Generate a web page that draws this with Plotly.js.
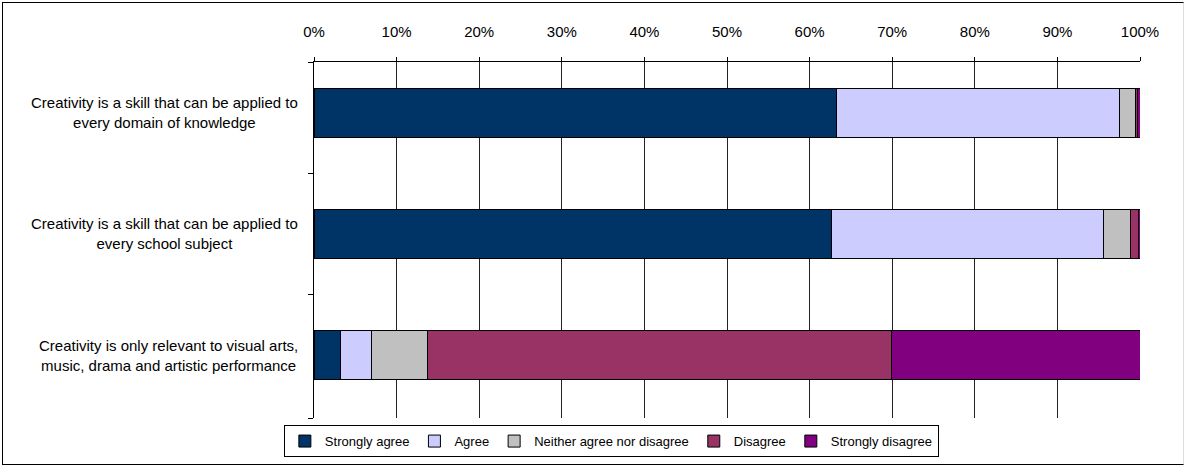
<!DOCTYPE html>
<html>
<head>
<meta charset="utf-8">
<script src="https://cdn.plot.ly/plotly-3.0.1.min.js"></script>
<style>
  html, body { margin: 0; padding: 0; background: #fff; }
  #wrap { position: relative; width: 1184px; height: 466px; }
  #chart { width: 1184px; height: 466px; }
  #frame { position: absolute; left: 2px; top: 2px; width: 1180px; height: 461px;
           border-left: 1px solid #000; border-top: 1px solid #000; border-bottom: 1px solid #000;
           border-right: 1px solid #ddd; pointer-events: none; }
</style>
</head>
<body>
<div id="wrap"><div id="chart"></div><div id="frame"></div></div>
<script>
const categories = [
  "Creativity is a skill that can be applied to<br>every domain of knowledge",
  "Creativity is a skill that can be applied to<br>every school subject",
  "Creativity is only relevant to visual arts,<br>music, drama and artistic performance"
];
const seriesNames = ["Strongly agree", "Agree", "Neither agree nor disagree", "Disagree", "Strongly disagree"];
const stronglyAgree    = [0.633, 0.626, 0.032];
const agree            = [0.342, 0.330, 0.038];
const neither          = [0.019, 0.032, 0.068];
const disagree         = [0.003, 0.010, 0.561];
const stronglyDisagree = [0.003, 0.002, 0.301];
const seriesValues = [stronglyAgree, agree, neither, disagree, stronglyDisagree];
const colors = ["#003366", "#CCCCFF", "#C0C0C0", "#993366", "#800080"];
const catIndex = categories.map((c, i) => i);

const FONT = "Liberation Sans, Arial, sans-serif";

const traces = seriesNames.map((name, i) => ({
  type: "bar",
  orientation: "h",
  name: name,
  x: seriesValues[i],
  y: catIndex,
  width: 0.4,
  marker: { color: colors[i], line: { color: "#000", width: 1 } },
  hoverinfo: "name+x"
}));

const annotations = categories.map((c, i) => ({
  xref: "paper", yref: "y",
  x: -0.017, y: catIndex[i],
  xanchor: "right", yanchor: "middle",
  align: "center",
  text: c,
  showarrow: false,
  font: { family: FONT, size: 15, color: "#000" }
}));

const layout = {
  width: 1184, height: 466,
  margin: { l: 314, r: 44, t: 62, b: 48, autoexpand: false },
  paper_bgcolor: "#fff", plot_bgcolor: "#fff",
  barmode: "stack",
  font: { family: FONT, size: 13, color: "#000" },
  xaxis: {
    side: "top",
    range: [0, 1],
    dtick: 0.1,
    tickformat: ".0%",
    showgrid: true, gridcolor: "#222", gridwidth: 1,
    showline: true, linecolor: "#000", linewidth: 1,
    ticks: "outside", ticklen: 4, tickcolor: "#000",
    ticklabelstandoff: 14,
    zeroline: false,
    fixedrange: true,
    automargin: false,
    tickfont: { size: 15 }
  },
  yaxis: {
    type: "linear",
    range: [2.52, -0.42],
    tickvals: [-0.42, 0.5, 1.5, 2.52],
    ticktext: ["", "", "", ""],
    showticklabels: false,
    ticks: "outside", ticklen: 5, tickcolor: "#000",
    showline: true, linecolor: "#000", linewidth: 1,
    showgrid: false, zeroline: false,
    fixedrange: true,
    automargin: false
  },
  showlegend: true,
  legend: {
    orientation: "h",
    x: 0.36, xanchor: "center",
    y: -0.02, yanchor: "top",
    bordercolor: "#000", borderwidth: 1,
    font: { size: 13 },
    traceorder: "normal"
  },
  annotations: annotations
};

Plotly.newPlot("chart", traces, layout, { displayModeBar: false, staticPlot: true });
</script>
</body>
</html>
